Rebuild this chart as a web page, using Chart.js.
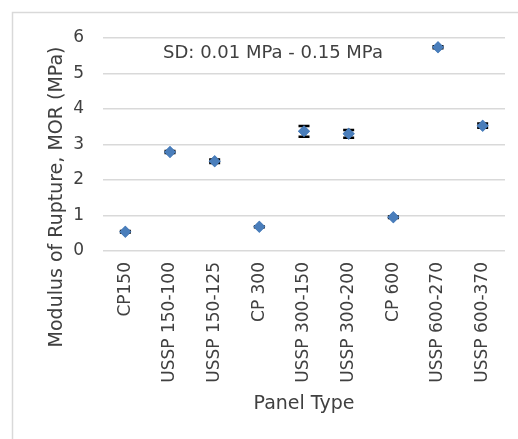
<!DOCTYPE html>
<html>
<head>
    <title>Modulus of Rupture</title>
    <script src="https://cdn.jsdelivr.net/npm/chart.js"></script>
    <style>
        body { margin: 0; background: #fff; }
        #wrap { width: 518px; height: 439px; }
    </style>
</head>
<body>
    <div id="wrap"><canvas id="morChart" width="518" height="439"></canvas></div>

    <script>
        const panelTypes = ['CP150', 'USSP 150-100', 'USSP 150-125', 'CP 300', 'USSP 300-150',
                            'USSP 300-200', 'CP 600', 'USSP 600-270', 'USSP 600-370'];
        const morValues = [0.54, 2.79, 2.53, 0.68, 3.37, 3.30, 0.95, 5.74, 3.53];
        const morSD = [0.02, 0.03, 0.05, 0.01, 0.15, 0.11, 0.02, 0.03, 0.06];
        const yTicks = [0, 1, 2, 3, 4, 5, 6];

        const FONT = 'DejaVu Sans';
        const TEXT = '#404040';

        // frame, axis titles, SD note
        const decorations = {
            id: 'decorations',
            beforeDraw(chart) {
                const ctx = chart.ctx;
                ctx.save();
                ctx.strokeStyle = '#d9d9d9';
                ctx.lineWidth = 1.5;
                ctx.strokeRect(12.5, 12.5, 520, 440);
                ctx.restore();
            },
            afterDraw(chart) {
                const ctx = chart.ctx;
                const area = chart.chartArea;
                ctx.save();
                ctx.fillStyle = TEXT;
                ctx.textAlign = 'center';
                ctx.textBaseline = 'middle';
                ctx.font = '19px ' + FONT;
                ctx.fillText('Panel Type', (area.left + area.right) / 2, 404);
                ctx.translate(57, 197);
                ctx.rotate(-Math.PI / 2);
                ctx.fillText('Modulus of Rupture, MOR (MPa)', 0, 0);
                ctx.restore();
                ctx.save();
                ctx.fillStyle = TEXT;
                ctx.textAlign = 'center';
                ctx.textBaseline = 'middle';
                ctx.font = '18px ' + FONT;
                ctx.fillText('SD: 0.01 MPa - 0.15 MPa', 273, 53);
                ctx.restore();
            }
        };

        // error bars drawn through the scales
        const errorBars = {
            id: 'errorBars',
            afterDatasetsDraw(chart) {
                const ctx = chart.ctx;
                const x = chart.scales.x, y = chart.scales.y;
                ctx.save();
                ctx.strokeStyle = '#000';
                ctx.lineWidth = 2.5;
                morValues.forEach((v, i) => {
                    const px = x.getPixelForValue(i);
                    const top = y.getPixelForValue(v + morSD[i]);
                    const bot = y.getPixelForValue(v - morSD[i]);
                    ctx.beginPath();
                    ctx.moveTo(px, top); ctx.lineTo(px, bot);
                    ctx.moveTo(px - 5.5, top); ctx.lineTo(px + 5.5, top);
                    ctx.moveTo(px - 5.5, bot); ctx.lineTo(px + 5.5, bot);
                    ctx.stroke();
                });
                ctx.restore();
                // redraw markers on top of the bars
                chart.getDatasetMeta(0).controller.draw();
            }
        };

        new Chart(document.getElementById('morChart'), {
            type: 'line',
            data: {
                labels: panelTypes,
                datasets: [{
                    data: morValues,
                    showLine: false,
                    pointStyle: 'rectRot',
                    pointRadius: 6,
                    pointHoverRadius: 6,
                    backgroundColor: '#4a7ebb',
                    borderColor: '#4a7ebb',
                    borderWidth: 0
                }]
            },
            options: {
                responsive: false,
                animation: false,
                events: [],
                layout: { padding: { left: 0, top: 38, right: 13, bottom: 0 } },
                plugins: {
                    legend: { display: false },
                    tooltip: { enabled: false }
                },
                scales: {
                    x: {
                        offset: true,
                        grid: { display: false, drawTicks: false },
                        border: { display: false },
                        ticks: {
                            minRotation: 90,
                            maxRotation: 90,
                            autoSkip: false,
                            padding: 11,
                            color: TEXT,
                            font: { family: FONT, size: 17 }
                        },
                        afterFit: s => { s.height = 188; }
                    },
                    y: {
                        min: 0,
                        max: 6,
                        afterBuildTicks: s => { s.ticks = yTicks.map(v => ({ value: v })); },
                        grid: { color: '#d9d9d9', lineWidth: 1.5, drawTicks: false },
                        border: { display: false },
                        ticks: {
                            padding: 19,
                            color: TEXT,
                            font: { family: FONT, size: 17 }
                        },
                        afterFit: s => { s.width = 103; }
                    }
                }
            },
            plugins: [decorations, errorBars]
        });
    </script>
</body>
</html>
